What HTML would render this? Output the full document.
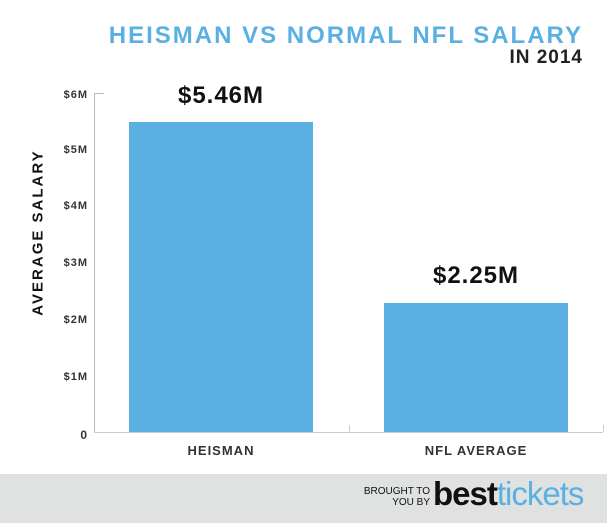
<!DOCTYPE html>
<html><head><style>
html,body{margin:0;padding:0;background:#fff;}
body{width:607px;height:523px;position:relative;overflow:hidden;font-family:"Liberation Sans",sans-serif;}
.a{position:absolute;white-space:nowrap;}
.t{font-weight:bold;letter-spacing:1px;}
.yl{position:absolute;left:40px;width:48px;text-align:right;font-size:11px;font-weight:bold;color:#333;letter-spacing:1px;}
</style></head><body>
<div class="a t" style="right:24px;top:22px;font-size:24px;color:#5ab0e3;letter-spacing:2px;">HEISMAN VS NORMAL NFL SALARY</div>
<div class="a t" style="right:24px;top:47px;font-size:19px;color:#222;letter-spacing:1px;">IN 2014</div>
<div class="a t" style="left:-62px;top:224px;width:200px;text-align:center;transform:rotate(-90deg);font-size:15px;color:#111;letter-spacing:2px;">AVERAGE SALARY</div>
<div class="yl" style="top:89px">$6M</div>
<div class="yl" style="top:144px">$5M</div>
<div class="yl" style="top:200px">$4M</div>
<div class="yl" style="top:257px">$3M</div>
<div class="yl" style="top:314px">$2M</div>
<div class="yl" style="top:371px">$1M</div>
<div class="yl" style="top:428px;font-size:12px">0</div>
<div class="a" style="left:94px;top:93px;width:1px;height:339px;background:#bbb"></div>
<div class="a" style="left:94px;top:93px;width:10px;height:1px;background:#bbb"></div>
<div class="a" style="left:94px;top:432px;width:509px;height:1px;background:#ccc"></div>
<div class="a" style="left:349px;top:425px;width:1px;height:7px;background:#ccc"></div>
<div class="a" style="left:603px;top:425px;width:1px;height:7px;background:#ccc"></div>
<div class="a" style="left:129px;top:122px;width:184px;height:310px;background:#5ab0e3"></div>
<div class="a" style="left:384px;top:303px;width:184px;height:129px;background:#5ab0e3"></div>
<div class="a t" style="left:129px;top:82px;width:184px;text-align:center;font-size:24px;color:#111;">$5.46M</div>
<div class="a t" style="left:384px;top:262px;width:184px;text-align:center;font-size:24px;color:#111;">$2.25M</div>
<div class="a t" style="left:129px;top:443px;width:184px;text-align:center;font-size:13px;color:#333;">HEISMAN</div>
<div class="a t" style="left:384px;top:443px;width:184px;text-align:center;font-size:13px;color:#333;">NFL AVERAGE</div>
<div class="a" style="left:0;top:474px;width:607px;height:49px;background:#e0e1e1"></div>
<div class="a" style="left:346px;top:486px;width:84px;text-align:right;font-size:10px;line-height:11px;color:#111;">BROUGHT TO<br>YOU BY</div>
<div class="a" style="left:433px;top:475px;font-size:33px;font-weight:bold;color:#111;letter-spacing:-1px;">best<span style="color:#5ab0e3;font-weight:normal">tickets</span></div>
</body></html>
